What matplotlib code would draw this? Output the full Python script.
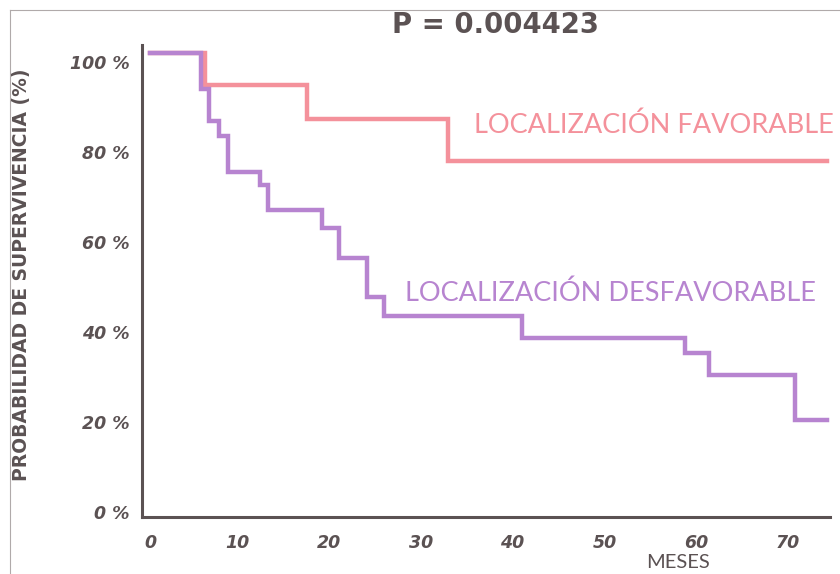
import matplotlib.pyplot as plt
from matplotlib.transforms import ScaledTranslation
from matplotlib.lines import Line2D

# Kaplan-Meier curves (months, % surviving)
fav_meses = [0, 6.0, 17.1, 32.4, 73.7]
fav_surv = [100, 92.9, 85.3, 76.0, 76.0]

desf_meses = [0, 5.5, 6.4, 7.5, 8.5, 12.0, 12.8, 18.7, 20.6, 23.6, 25.5,
              40.5, 58.2, 60.8, 70.2, 73.7]
desf_surv = [100, 92.0, 84.9, 81.6, 73.6, 70.7, 65.1, 61.1, 54.4, 45.8, 41.6,
             36.7, 33.3, 28.4, 18.4, 18.4]

x_ticks = [0, 10, 20, 30, 40, 50, 60, 70]
y_ticks = [0, 20, 40, 60, 80, 100]
y_labels = ["0 %", "20 %", "40 %", "60 %", "80 %", "100 %"]

rosa = "#f4919b"
lila = "#b784d0"
gris = "#5b5253"

fig = plt.figure(figsize=(8.4, 5.74), dpi=100)
ax = fig.add_axes([142 / 840, 1 - 517 / 574, (830 - 142) / 840, (517 - 45) / 574])

ax.step(fav_meses, fav_surv, where="post", color=rosa, lw=3.2, solid_joinstyle="miter")
ax.step(desf_meses, desf_surv, where="post", color=lila, lw=3.2, solid_joinstyle="miter")

ax.set_xlim(-0.87, 74.0)
ax.set_ylim(-3.1, 101.8)

for s in ["top", "right"]:
    ax.spines[s].set_visible(False)
for s in ["left", "bottom"]:
    ax.spines[s].set_color(gris)
    ax.spines[s].set_linewidth(2.2)

ax.set_xticks(x_ticks)
ax.set_xticklabels([str(t) for t in x_ticks])
ax.set_yticks(y_ticks)
ax.set_yticklabels(y_labels)
ax.tick_params(length=0, colors=gris)
ax.tick_params(axis="x", pad=12)
ax.tick_params(axis="y", pad=9)
for lab in ax.get_xticklabels() + ax.get_yticklabels():
    lab.set_fontfamily("DejaVu Sans")
    lab.set_fontweight("heavy")
    lab.set_fontstyle("italic")
    lab.set_fontsize(12.5)
    lab.set_color(gris)
for lab in ax.get_xticklabels()[1:]:
    lab.set_transform(lab.get_transform() + ScaledTranslation(-0.05, 0, fig.dpi_scale_trans))
for lab in ax.get_yticklabels():
    lab.set_transform(lab.get_transform() + ScaledTranslation(0, -0.09, fig.dpi_scale_trans))

ax.text(35.3, 84.0, "LOCALIZACIÓN FAVORABLE", color=rosa, fontsize=19.5,
        family="Lato", va="center", ha="left")
ax.text(27.7, 46.7, "LOCALIZACIÓN DESFAVORABLE", color=lila, fontsize=19.5,
        family="Lato", va="center", ha="left")

fig.text(495 / 840, 1 - 25 / 574, "P = 0.004423", color=gris, fontsize=19.8,
         fontweight="bold", family="DejaVu Sans", ha="center", va="center")
fig.text(22 / 840, 1 - 275 / 574, "PROBABILIDAD DE SUPERVIVENCIA (%)", color=gris,
         fontsize=13.5, fontweight="bold", family="Liberation Sans Narrow",
         rotation=90, ha="center", va="center")
fig.text(678 / 840, 1 - 563 / 574, "MESES", color=gris, fontsize=14.5,
         family="Lato", ha="center", va="center")

# thin page frame at top and left
fig.add_artist(Line2D([10 / 840, 10 / 840], [0, 1 - 10 / 574], color="#b0aaaa", lw=0.8))
fig.add_artist(Line2D([10 / 840, 1], [1 - 10 / 574, 1 - 10 / 574], color="#b0aaaa", lw=0.8))

fig.savefig("out.png", dpi=100)
